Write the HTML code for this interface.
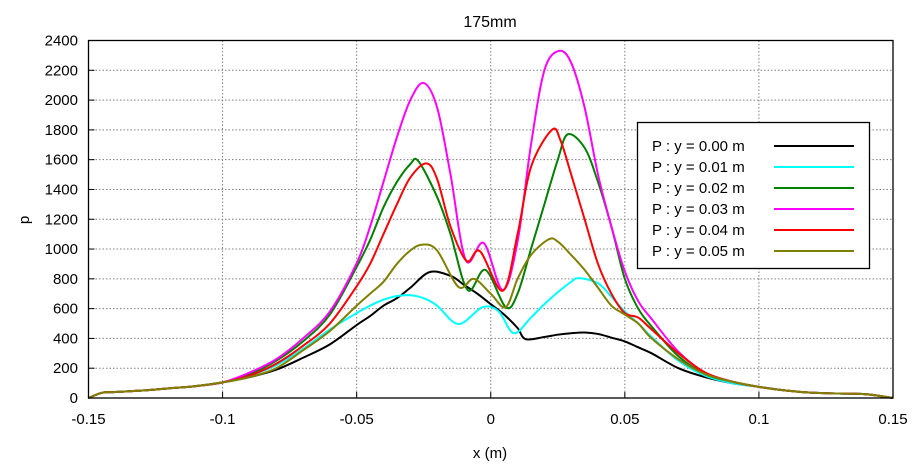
<!DOCTYPE html>
<html><head><meta charset="utf-8"><style>
html,body{margin:0;padding:0;background:#fff;}
svg{display:block;font-family:"Liberation Sans","DejaVu Sans",sans-serif;}
</style></head><body>
<svg id="chart" width="922" height="471" viewBox="0 0 922 471">
<text x="490" y="27" text-anchor="middle" font-size="16">175mm</text>
<g id="grid"></g>
<g id="axes"></g>
<g id="series"></g>
<rect x="88.5" y="40.5" width="804.5" height="357.5" fill="none" stroke="#000" stroke-width="1.3"/>
<text x="490" y="458" text-anchor="middle" font-size="15">x (m)</text>
<text x="29" y="220" text-anchor="middle" font-size="15" transform="rotate(-90 29 220)">p</text>
<g id="legend">
<rect x="637.5" y="122.5" width="232" height="146" fill="#fff" stroke="#000" stroke-width="1.3"/>
</g>
</svg>
<script>
const xTicks=[-0.15,-0.1,-0.05,0,0.05,0.1,0.15];
const xTickLabels=["-0.15","-0.1","-0.05","0","0.05","0.1","0.15"];
const yTicks=[0,200,400,600,800,1000,1200,1400,1600,1800,2000,2200,2400];
const seriesNames=["P : y = 0.00 m","P : y = 0.01 m","P : y = 0.02 m","P : y = 0.03 m","P : y = 0.04 m","P : y = 0.05 m"];
const seriesColors=["#000000","#00ffff","#008000","#ff00ff","#ff0000","#808000"];
const xTail=[-0.15,-0.145,-0.14,-0.13,-0.12,-0.11,-0.1];
const yTail=[0,35,40,50,65,80,105];
const xR=[0.1,0.11,0.12,0.13,0.14,0.15];
const yR=[75,50,35,30,25,0];
const x0=[-0.09,-0.08,-0.07,-0.06,-0.05,-0.045,-0.04,-0.035,-0.03,-0.0228,-0.015,-0.01,-0.005,0,0.005,0.01,0.013,0.02,0.025,0.03,0.035,0.04,0.045,0.05,0.055,0.06,0.07,0.08,0.09];
const y0=[140,190,270,360,490,550,620,670,740,845,820,760,700,630,560,470,395,410,425,435,440,430,405,380,340,300,200,140,100];
const x1=[-0.09,-0.08,-0.07,-0.06,-0.05,-0.045,-0.04,-0.035,-0.03,-0.025,-0.02,-0.012,-0.003,0.003,0.0086,0.015,0.02,0.025,0.03,0.033,0.04,0.045,0.05,0.055,0.06,0.07,0.08,0.09];
const y1=[150,220,330,460,570,620,660,685,690,670,620,497,610,580,435,540,630,710,780,805,770,680,580,500,410,250,150,100];
const x2=[-0.09,-0.08,-0.07,-0.06,-0.05,-0.045,-0.04,-0.035,-0.03,-0.027,-0.02,-0.015,-0.0086,-0.002,0.0056,0.01,0.015,0.02,0.025,0.0287,0.035,0.04,0.045,0.05,0.055,0.06,0.07,0.08,0.09];
const y2=[160,250,380,560,880,1060,1280,1450,1570,1590,1350,1100,725,860,610,700,1000,1300,1600,1770,1680,1450,1150,800,600,480,280,160,110];
const x3=[-0.09,-0.08,-0.07,-0.06,-0.05,-0.045,-0.04,-0.035,-0.03,-0.025,-0.02,-0.015,-0.0093,-0.0026,0.0045,0.01,0.015,0.02,0.0254,0.03,0.035,0.04,0.045,0.05,0.055,0.06,0.07,0.08,0.09];
const y3=[170,260,400,580,905,1150,1450,1750,2000,2115,1950,1500,925,1040,725,1050,1700,2200,2330,2250,1950,1500,1150,850,650,530,310,170,110];
const x4=[-0.09,-0.08,-0.07,-0.06,-0.05,-0.045,-0.04,-0.035,-0.03,-0.024,-0.02,-0.015,-0.009,-0.004,0.0045,0.01,0.015,0.0228,0.026,0.03,0.035,0.04,0.045,0.05,0.055,0.06,0.07,0.08,0.09];
const y4=[150,230,350,500,750,900,1100,1300,1480,1575,1470,1150,920,985,720,1100,1550,1800,1730,1500,1200,900,700,570,540,460,300,170,110];
const x5=[-0.09,-0.08,-0.07,-0.06,-0.05,-0.045,-0.04,-0.035,-0.03,-0.0254,-0.02,-0.012,-0.0063,0,0.0056,0.01,0.015,0.0216,0.025,0.03,0.035,0.04,0.045,0.05,0.055,0.06,0.07,0.08,0.09];
const y5=[140,200,320,450,620,700,780,900,990,1030,990,745,800,700,610,800,960,1065,1050,960,860,740,620,560,500,400,260,160,110];
const xs=[x0,x1,x2,x3,x4,x5], ys=[y0,y1,y2,y3,y4,y5];

const L=88.5,R=893,T=40.5,B=398;
const sx=v=>L+(v+0.15)/0.3*(R-L);
const sy=v=>B-v/2400*(B-T);
const NS="http://www.w3.org/2000/svg";
function mk(tag,attrs,parent){const e=document.createElementNS(NS,tag);for(const k in attrs)e.setAttribute(k,attrs[k]);parent.appendChild(e);return e;}
const grid=document.getElementById('grid'),axes=document.getElementById('axes'),ser=document.getElementById('series'),leg=document.getElementById('legend');
yTicks.forEach((t,i)=>{
  const y=sy(t);
  if(i>0&&i<yTicks.length-1){const g=mk('line',{x1:L,x2:R,y1:y,y2:y,stroke:'#808080','stroke-dasharray':'1.5,2',"stroke-width":1},grid);
  
  }
  const tk=mk('line',{x1:L,x2:L+6,y1:y,y2:y,stroke:'#000'},axes);
  
  
  const tx=mk('text',{x:78,y:y+5,'text-anchor':'end','font-size':15},axes);
  tx.textContent=String(t);
  
  
});
xTicks.forEach((t,i)=>{
  const x=sx(t);
  if(i>0&&i<xTicks.length-1){const g=mk('line',{x1:x,x2:x,y1:T,y2:B,stroke:'#808080','stroke-dasharray':'1.5,2',"stroke-width":1},grid);
  
  }
  const tk=mk('line',{x1:x,x2:x,y1:B,y2:B-6,stroke:'#000'},axes);
  
  
  const tx=mk('text',{x:x,y:424,'text-anchor':'middle','font-size':15},axes);
  tx.textContent=xTickLabels[i];
  
  
});
function smooth(pts){
  let d='M'+pts[0][0].toFixed(2)+','+pts[0][1].toFixed(2);
  for(let i=0;i<pts.length-1;i++){
    const p0=pts[Math.max(0,i-1)],p1=pts[i],p2=pts[i+1],p3=pts[Math.min(pts.length-1,i+2)];
    const c1=[p1[0]+(p2[0]-p0[0])/6,p1[1]+(p2[1]-p0[1])/6],c2=[p2[0]-(p3[0]-p1[0])/6,p2[1]-(p3[1]-p1[1])/6];
    d+='C'+c1.map(v=>v.toFixed(2)).join(',')+' '+c2.map(v=>v.toFixed(2)).join(',')+' '+p2[0].toFixed(2)+','+p2[1].toFixed(2);
  }
  return d;
}
xs.forEach((xa,s)=>{
  const ax=xTail.concat(xa,xR), ay=yTail.concat(ys[s],yR);
  const pts=ax.map((x,i)=>[sx(x),sy(ay[i])]);
  const p=mk('path',{d:smooth(pts),fill:'none',stroke:seriesColors[s],'stroke-width':2,'stroke-linejoin':'round'},ser);
  
  
  const ly=146+s*21;
  const lt=mk('text',{x:652,y:ly+5,'font-size':15},leg);
  lt.textContent=seriesNames[s];
  
  
  const ll=mk('line',{x1:774,x2:854,y1:ly,y2:ly,stroke:seriesColors[s],'stroke-width':2},leg);
  
  
});
</script>
</body></html>
